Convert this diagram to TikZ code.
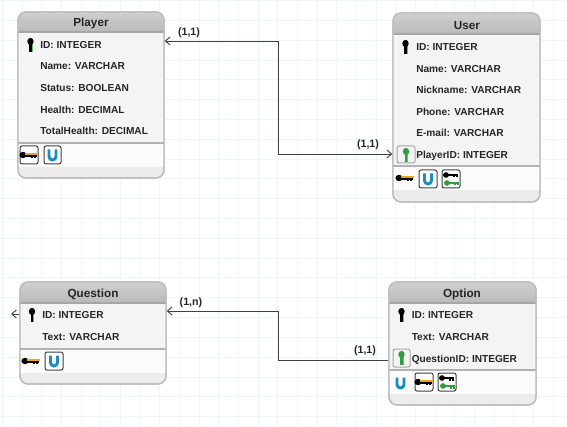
\documentclass[tikz,border=0pt]{standalone}
\usepackage{fontspec}
\setmainfont{Liberation Sans}
\usetikzlibrary{fit,arrows.meta}
\definecolor{gridblue}{HTML}{F1F5FB}
\definecolor{boxedge}{HTML}{BCBCBC}
\definecolor{headgray}{HTML}{BABABA}
\definecolor{bodygray}{HTML}{F4F4F4}
\definecolor{footgray}{HTML}{ECECEC}
\definecolor{keygreen}{HTML}{2E9E3F}
\definecolor{keyorange}{HTML}{F2A11C}
\definecolor{ublue}{HTML}{1C8CC4}
\tikzset{
    >={Straight Barb[length=3.5pt,width=6pt]},
    gridline/.style={gridblue,line width=0.75pt},
    entitybox/.style={draw=boxedge,line width=1pt,rounded corners=6pt,inner sep=0pt},
    attr/.style={anchor=west,inner sep=0pt,text height=5.5pt,text depth=0pt,font=\bfseries\fontsize{7.6}{9}\selectfont,text=black!85},
    title/.style={inner sep=0pt,text height=6.2pt,text depth=0pt,font=\bfseries\fontsize{8.8}{10}\selectfont,text=black!85},
    card/.style={inner sep=0pt,font=\bfseries\fontsize{8}{10}\selectfont,text=black!85},
    rel/.style={black!75,line width=0.7pt},
    frame/.style={draw=black!75,line width=0.75pt,fill=white,rounded corners=1.5pt},
    greenframe/.style={draw=black!35,line width=0.75pt,fill=bodygray,rounded corners=1.5pt},
    vkey/.pic={
        \draw[keygreen!70,line width=1.8pt] (1.2,-3) -- (1.2,7);
        \fill[#1] (0,-3.5) ellipse (3.2 and 3.6);
        \draw[#1,line width=1.8pt] (0,-4) -- (0,7);
    },
    hkey/.pic={
        \fill[black] (-6,0) ellipse (3.6 and 3.2);
        \draw[black,line width=1.7pt] (-6,1) -- (8,1);
        \draw[keyorange,line width=1.5pt] (-4,-1) -- (9,-1);
        \draw[black,line width=1.3pt] (3,1.5) -- (3,3) (6,1.5) -- (6,3);
    },
    twokey/.pic={
        \fill[black] (-5,-4) ellipse (3 and 2.8);
        \draw[black,line width=1.7pt] (-5,-4) -- (7,-4);
        \draw[black,line width=1.2pt] (3,-4) -- (3,-1.5) (6,-4) -- (6,-1.5);
        \fill[keygreen] (-4,4) ellipse (3 and 2.8);
        \draw[keygreen,line width=1.7pt] (-4,4) -- (8,4);
        \draw[keygreen,line width=1.2pt] (4,4) -- (4,6.5) (7,4) -- (7,6.5);
    },
    ubar/.pic={
        \draw[ublue,line width=2.2pt] (-3.5,-5.5) -- (-3.5,1.5) arc (180:0:3.5) -- (3.5,-5.5);
    }
}
% args: name, x1, y1, x2, y2, end of header, divider, end of icon band
\newcommand{\entity}[8]{
    \node[entitybox,fill=footgray,fit={(#2,#3)(#4,#5)}] (#1) {};
    \fill[bodygray] (#2,#6) rectangle (#4,#7);
    \fill[white!60!bodygray] (#2,#7) rectangle (#4,#8);
    \shade[top color=headgray!70,bottom color=headgray] (#2,#6) [rounded corners=6pt] -- (#2,#3) -- (#4,#3) [sharp corners] -- (#4,#6) -- cycle;
    \draw[black!35,line width=1pt] (#2,#6) -- (#4,#6);
    \draw[black!30,line width=1pt] (#2,#7) -- (#4,#7);
    \node[entitybox,fit={(#2,#3)(#4,#5)}] {};
}
\begin{document}
\begin{tikzpicture}[x=0.75pt,y=-0.75pt]
    \useasboundingbox (0,0) rectangle (567,427);
    \foreach \gx in {0,...,28}
        \draw[gridline] ({\gx*19.67+2.5},0) -- ({\gx*19.67+2.5},427);
    \foreach \gy in {0,...,21}
        \draw[gridline] (0,{\gy*19.8+0.8}) -- (567,{\gy*19.8+0.8});

    \entity{player}{18}{12}{164}{178}{32}{143}{167}
    \entity{user}{393}{13}{540}{202}{34}{166}{190}
    \entity{question}{20}{282}{166}{384}{303}{349}{373}
    \entity{option}{389}{282}{536}{405}{303}{370}{394}

    \node[title] (playertitle) at (91,22.5) {Player};
    \node[attr] (playerid) at (40,45) {ID: INTEGER};
    \node[attr] (playername) at (40,66) {Name: VARCHAR};
    \node[attr] (playerstatus) at (40,88) {Status: BOOLEAN};
    \node[attr] (playerhealth) at (40,109.5) {Health: DECIMAL};
    \node[attr] (playertotal) at (40,131) {TotalHealth: DECIMAL};

    \node[title] (usertitle) at (467,25) {User};
    \node[attr] (userid) at (416,46.5) {ID: INTEGER};
    \node[attr] (username) at (416,68.5) {Name: VARCHAR};
    \node[attr] (usernick) at (416,90) {Nickname: VARCHAR};
    \node[attr] (userphone) at (416,111.5) {Phone: VARCHAR};
    \node[attr] (usermail) at (416,133) {E-mail: VARCHAR};
    \node[attr] (userfk) at (416,154.5) {PlayerID: INTEGER};

    \node[title] (questiontitle) at (93,293) {Question};
    \node[attr] (questionid) at (42,315) {ID: INTEGER};
    \node[attr] (questiontext) at (42,336.5) {Text: VARCHAR};

    \node[title] (optiontitle) at (462,293) {Option};
    \node[attr] (optionid) at (411.5,315) {ID: INTEGER};
    \node[attr] (optiontext) at (411.5,336.5) {Text: VARCHAR};
    \node[attr] (optionfk) at (411.5,358.5) {QuestionID: INTEGER};

    % keys of the rows
    \pic at (30.5,45) {vkey=black};
    \pic at (405.5,47) {vkey=black};
    \pic at (32,315) {vkey=black};
    \pic at (401.5,315) {vkey=black};
    \draw[greenframe] (397,146) rectangle (415,163);
    \pic at (406,155) {vkey=keygreen};
    \draw[greenframe] (393,349) rectangle (410,367);
    \pic at (401.5,358) {vkey=keygreen};

    % icons under the rows
    \draw[frame] (20,146) rectangle (38,164);
    \pic at (29,155) {hkey};
    \draw[frame] (44,146) rectangle (61,164);
    \pic at (52.5,155) {ubar};

    \pic at (405,178) {hkey};
    \draw[frame] (419,170) rectangle (437,188);
    \pic at (428,179) {ubar};
    \draw[frame] (442,170) rectangle (460,188);
    \pic at (451,179) {twokey};

    \pic at (31,361) {hkey};
    \draw[frame] (45,352) rectangle (63,370);
    \pic at (54,361) {ubar};

    \pic at (400.5,383) {ubar};
    \draw[frame] (415,373) rectangle (433,391);
    \pic at (424,382) {hkey};
    \draw[frame] (438,373) rectangle (456,391);
    \pic at (447,382) {twokey};

    % relations
    \coordinate (topbend) at (278,41);
    \coordinate (lowbend) at (278,311);
    \coordinate (stubend) at (11,314);
    \coordinate (userport) at (278,154);
    \coordinate (optionport) at (278,360);
    \draw[rel,->] (topbend) -- (player.east |- topbend);
    \draw[rel,->] (topbend) -- (userport) -- (user.west |- userport);
    \draw[rel,->] (lowbend) -- (question.east |- lowbend);
    \draw[rel] (lowbend) -- (optionport) -- (option.west |- optionport);
    \draw[rel,->] (question.west |- stubend) -- (stubend);

    \node[card] (playercard) at (189,33) {(1,1)};
    \node[card] (usercard) at (368,145) {(1,1)};
    \node[card] (questioncard) at (191,303) {(1,n)};
    \node[card] (optioncard) at (365,351) {(1,1)};
\end{tikzpicture}
\end{document}
